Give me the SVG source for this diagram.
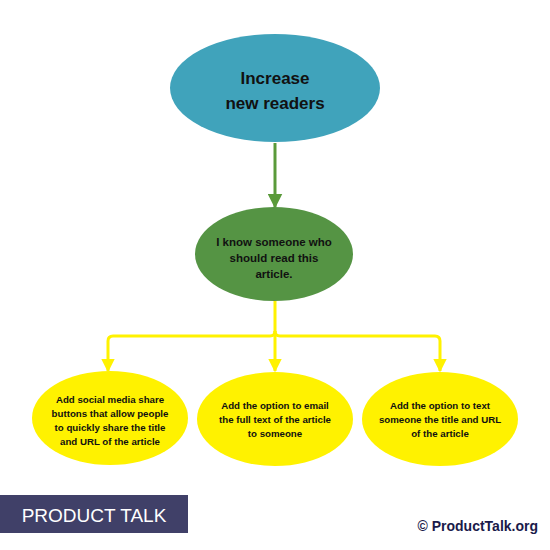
<svg xmlns="http://www.w3.org/2000/svg" width="550" height="550" viewBox="0 0 550 550">
<style>
.t{font-family:"Liberation Sans",Arial,sans-serif;font-weight:bold;fill:#111;text-anchor:middle}
.y{fill:#fff200}
.yl{fill:none;stroke:#fff200;stroke-width:3;stroke-linejoin:round}
</style>
<defs>
<marker id="ag" viewBox="0 0 10 10" refX="9" refY="5" markerWidth="5" markerHeight="5" orient="auto" markerUnits="strokeWidth"><path d="M0,0L10,5L0,10z" fill="#5a9a3a"/></marker>
<marker id="ay" viewBox="0 0 10 10" refX="9" refY="5" markerWidth="4.5" markerHeight="4.5" orient="auto" markerUnits="strokeWidth"><path d="M0,0L10,5L0,10z" fill="#fff200"/></marker>
</defs>
<rect width="550" height="550" fill="#fff"/>
<g id="connectors">
<line x1="275" y1="143" x2="275" y2="207" stroke="#5a9a3a" stroke-width="3" marker-end="url(#ag)"/>
<path class="yl" d="M275,301V331Q275,336 270,336H113Q108,336 108,341V371" marker-end="url(#ay)"/>
<path class="yl" d="M275,331Q275,336 280,336H435Q440,336 440,341V371" marker-end="url(#ay)"/>
<line class="yl" x1="275" y1="331" x2="275" y2="371" marker-end="url(#ay)"/>
</g>
<g id="goal">
<ellipse cx="275" cy="88" rx="105" ry="54" fill="#40a3bb"/>
<text class="t" x="275" y="84" font-size="17">Increase</text>
<text class="t" x="275" y="109" font-size="17">new readers</text>
</g>
<g id="opportunity">
<ellipse cx="274" cy="254" rx="79" ry="47" fill="#559444"/>
<text class="t" x="274" y="246" font-size="11.5">I know someone who</text>
<text class="t" x="274" y="262" font-size="11.5">should read this</text>
<text class="t" x="274" y="278" font-size="11.5">article.</text>
</g>
<g id="solution1">
<ellipse class="y" cx="110" cy="418" rx="78" ry="47"/>
<text class="t" x="110" y="403" font-size="9.7">Add social media share</text>
<text class="t" x="110" y="417" font-size="9.7">buttons that allow people</text>
<text class="t" x="110" y="431" font-size="9.7">to quickly share the title</text>
<text class="t" x="110" y="445" font-size="9.7">and URL of the article</text>
</g>
<g id="solution2">
<ellipse class="y" cx="275" cy="419" rx="78" ry="47"/>
<text class="t" x="275" y="409" font-size="9.7">Add the option to email</text>
<text class="t" x="275" y="423" font-size="9.7">the full text of the article</text>
<text class="t" x="275" y="437" font-size="9.7">to someone</text>
</g>
<g id="solution3">
<ellipse class="y" cx="440" cy="419" rx="78" ry="47"/>
<text class="t" x="440" y="409" font-size="9.7">Add the option to text</text>
<text class="t" x="440" y="423" font-size="9.7">someone the title and URL</text>
<text class="t" x="440" y="437" font-size="9.7">of the article</text>
</g>
<g id="brand">
<rect x="0" y="495" width="188" height="38" fill="#404068"/>
<text x="94" y="522" font-family="Liberation Sans,Arial,sans-serif" font-size="19" fill="#fff" text-anchor="middle">PRODUCT TALK</text>
<text x="538" y="531" font-family="Liberation Sans,Arial,sans-serif" font-weight="bold" font-size="14" fill="#1a1a4a" text-anchor="end">© ProductTalk.org</text>
</g>
</svg>
